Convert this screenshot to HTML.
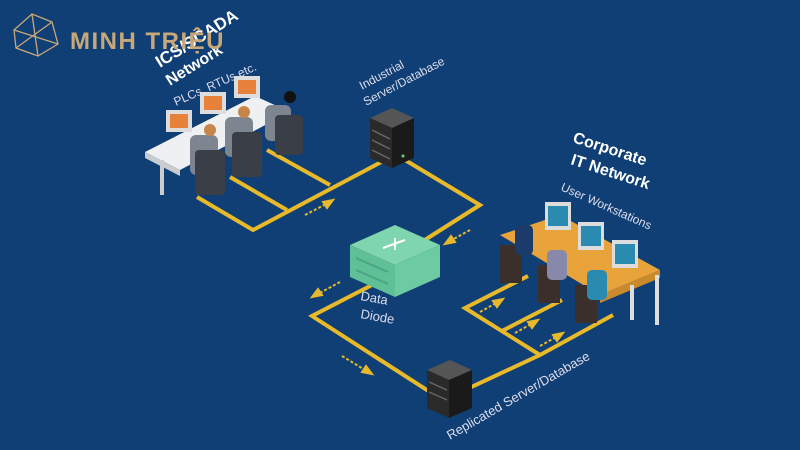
<!DOCTYPE html>
<html><head><meta charset="utf-8"><style>
html,body{margin:0;padding:0;background:#0f3f74;}
svg{display:block}
text{font-family:"Liberation Sans",sans-serif;}
</style></head><body>
<svg width="800" height="450" viewBox="0 0 800 450" xmlns="http://www.w3.org/2000/svg">
<rect width="800" height="450" fill="#0f3f74"/>
<g fill="none" stroke="#e8b92a" stroke-width="4" stroke-linejoin="miter">
 <path d="M267,150 L330,185"/>
 <path d="M230,177 L287,210"/>
 <path d="M197,197 L253,230 L385,160"/>
 <path d="M405,160 L480,205 L420,243"/>
 <path d="M372,285 L312,316 L430,392"/>
 <path d="M465,390 L540,355 L613,315"/>
 <path d="M540,355 L465,308 L528,276"/>
 <path d="M502,331 L562,300"/>
</g>
<g stroke="#e8b92a" stroke-width="2" fill="#e8b92a">
 <line x1="305" y1="215" x2="328" y2="203" stroke-dasharray="3,2"/><polygon points="333,200 323,202 327,208"/>
 <line x1="470" y1="230" x2="450" y2="241" stroke-dasharray="3,2"/><polygon points="445,244 455,242 451,236"/>
 <line x1="340" y1="282" x2="318" y2="294" stroke-dasharray="3,2"/><polygon points="312,297 322,295 318,289"/>
 <line x1="342" y1="356" x2="365" y2="370" stroke-dasharray="3,2"/><polygon points="372,374 362,372 366,366"/>
 <line x1="480" y1="312" x2="498" y2="302" stroke-dasharray="3,2"/><polygon points="503,299 493,301 497,307"/>
 <line x1="515" y1="333" x2="533" y2="323" stroke-dasharray="3,2"/><polygon points="538,320 528,322 532,328"/>
 <line x1="540" y1="346" x2="558" y2="336" stroke-dasharray="3,2"/><polygon points="563,333 553,335 557,341"/>
</g>
<!-- left desk -->
<polygon points="145,152 255,96 290,112 180,170" fill="#eef0f2"/>
<polygon points="145,152 180,170 180,176 145,158" fill="#c8ccd0"/>
<rect x="160" y="160" width="4" height="35" fill="#ccc"/>
<g fill="#ddd"><rect x="166" y="110" width="26" height="22"/><rect x="200" y="92" width="26" height="22"/><rect x="234" y="76" width="26" height="22"/></g>
<g fill="#e8823a"><rect x="170" y="114" width="18" height="14"/><rect x="204" y="96" width="18" height="14"/><rect x="238" y="80" width="18" height="14"/></g>
<g fill="#7d8690"><rect x="190" y="135" width="28" height="40" rx="6"/><rect x="225" y="117" width="28" height="40" rx="6"/><rect x="265" y="105" width="26" height="36" rx="6"/></g>
<g fill="#3a3f47"><rect x="195" y="150" width="30" height="45" rx="4"/><rect x="232" y="132" width="30" height="45" rx="4"/><rect x="275" y="115" width="28" height="40" rx="4"/></g>
<g fill="#c8854a"><circle cx="210" cy="130" r="6"/><circle cx="244" cy="112" r="6"/></g><circle cx="290" cy="97" r="6" fill="#111"/>
<!-- industrial server -->
<polygon points="370,118 392,108 414,118 392,128" fill="#555"/>
<polygon points="370,118 392,128 392,168 370,158" fill="#2a2a2a"/>
<polygon points="392,128 414,118 414,158 392,168" fill="#1a1a1a"/>
<g stroke="#666" stroke-width="1.5"><line x1="372" y1="130" x2="390" y2="139"/><line x1="372" y1="140" x2="390" y2="149"/><line x1="372" y1="150" x2="390" y2="159"/></g>
<circle cx="403" cy="156" r="1.5" fill="#7c7"/>
<!-- diode -->
<polygon points="350,245 395,225 440,245 395,265" fill="#7fd5ad"/>
<polygon points="350,245 395,265 395,297 350,277" fill="#5fbf97"/>
<polygon points="395,265 440,245 440,277 395,297" fill="#6ccba2"/>
<g stroke="#fff" stroke-width="2"><line x1="383" y1="248" x2="405" y2="240"/><line x1="395" y1="238" x2="395" y2="250"/></g>
<g stroke="#4aa580" stroke-width="2"><line x1="356" y1="258" x2="388" y2="272"/><line x1="356" y1="270" x2="388" y2="284"/></g>
<!-- replicated server -->
<polygon points="427,370 450,360 472,370 449,380" fill="#555"/>
<polygon points="427,370 449,380 449,418 427,408" fill="#2a2a2a"/>
<polygon points="449,380 472,370 472,408 449,418" fill="#1a1a1a"/>
<g stroke="#666" stroke-width="1.5"><line x1="429" y1="382" x2="447" y2="390"/><line x1="429" y1="392" x2="447" y2="400"/></g>
<!-- right desk -->
<polygon points="500,235 560,215 660,270 600,295" fill="#e8a33a"/>
<polygon points="600,295 660,270 660,278 600,303" fill="#c88a2a"/>
<rect x="655" y="275" width="4" height="50" fill="#ddd"/><rect x="630" y="285" width="4" height="35" fill="#ddd"/>
<g fill="#ddd"><rect x="545" y="202" width="26" height="28"/><rect x="578" y="222" width="26" height="28"/><rect x="612" y="240" width="26" height="28"/></g>
<g fill="#2a8ab0"><rect x="548" y="206" width="20" height="20"/><rect x="581" y="226" width="20" height="20"/><rect x="615" y="244" width="20" height="20"/></g>
<g fill="#3a2f2a"><rect x="500" y="245" width="22" height="38"/><rect x="538" y="265" width="22" height="38"/><rect x="575" y="285" width="22" height="38"/></g>
<g fill="#1c3a6a"><rect x="515" y="225" width="18" height="30" rx="5"/></g>
<g fill="#88a"><rect x="547" y="250" width="20" height="30" rx="5"/></g>
<g fill="#2a8ab0"><rect x="587" y="270" width="20" height="30" rx="5"/></g>
<!-- labels -->
<g fill="#fff" font-weight="bold">
 <text transform="translate(160,68) rotate(-32)" font-size="17">ICS/SCADA</text>
 <text transform="translate(170,86) rotate(-32)" font-size="16">Network</text>
</g>
<g fill="#dde" font-size="12">
 <text transform="translate(176,106) rotate(-24)">PLCs, RTUs etc.</text>
 <text transform="translate(362,90) rotate(-28)">Industrial</text>
 <text transform="translate(366,106) rotate(-28)">Server/Database</text>
 <text transform="translate(560,190) rotate(24)">User Workstations</text>
 <text transform="translate(360,300) rotate(10)" font-size="13">Data</text>
 <text transform="translate(360,318) rotate(10)" font-size="13">Diode</text>
 <text transform="translate(450,440) rotate(-30)" font-size="13">Replicated Server/Database</text>
</g>
<g fill="#fff" font-weight="bold" font-size="16">
 <text transform="translate(572,142) rotate(18)">Corporate</text>
 <text transform="translate(570,164) rotate(18)">IT Network</text>
</g>
<!-- logo -->
<g stroke="#c8a878" stroke-width="1.3" fill="none">
 <polygon points="14,30 32,14 52,22 58,44 38,56 16,48"/><line x1="32" y1="14" x2="38" y2="56"/><line x1="14" y1="30" x2="58" y2="44"/><line x1="52" y1="22" x2="16" y2="48"/>
</g>
<text x="70" y="49" font-size="24" font-weight="bold" fill="#c8a878" letter-spacing="1.5">MINH TRIỆU</text>
</svg>
</body></html>
